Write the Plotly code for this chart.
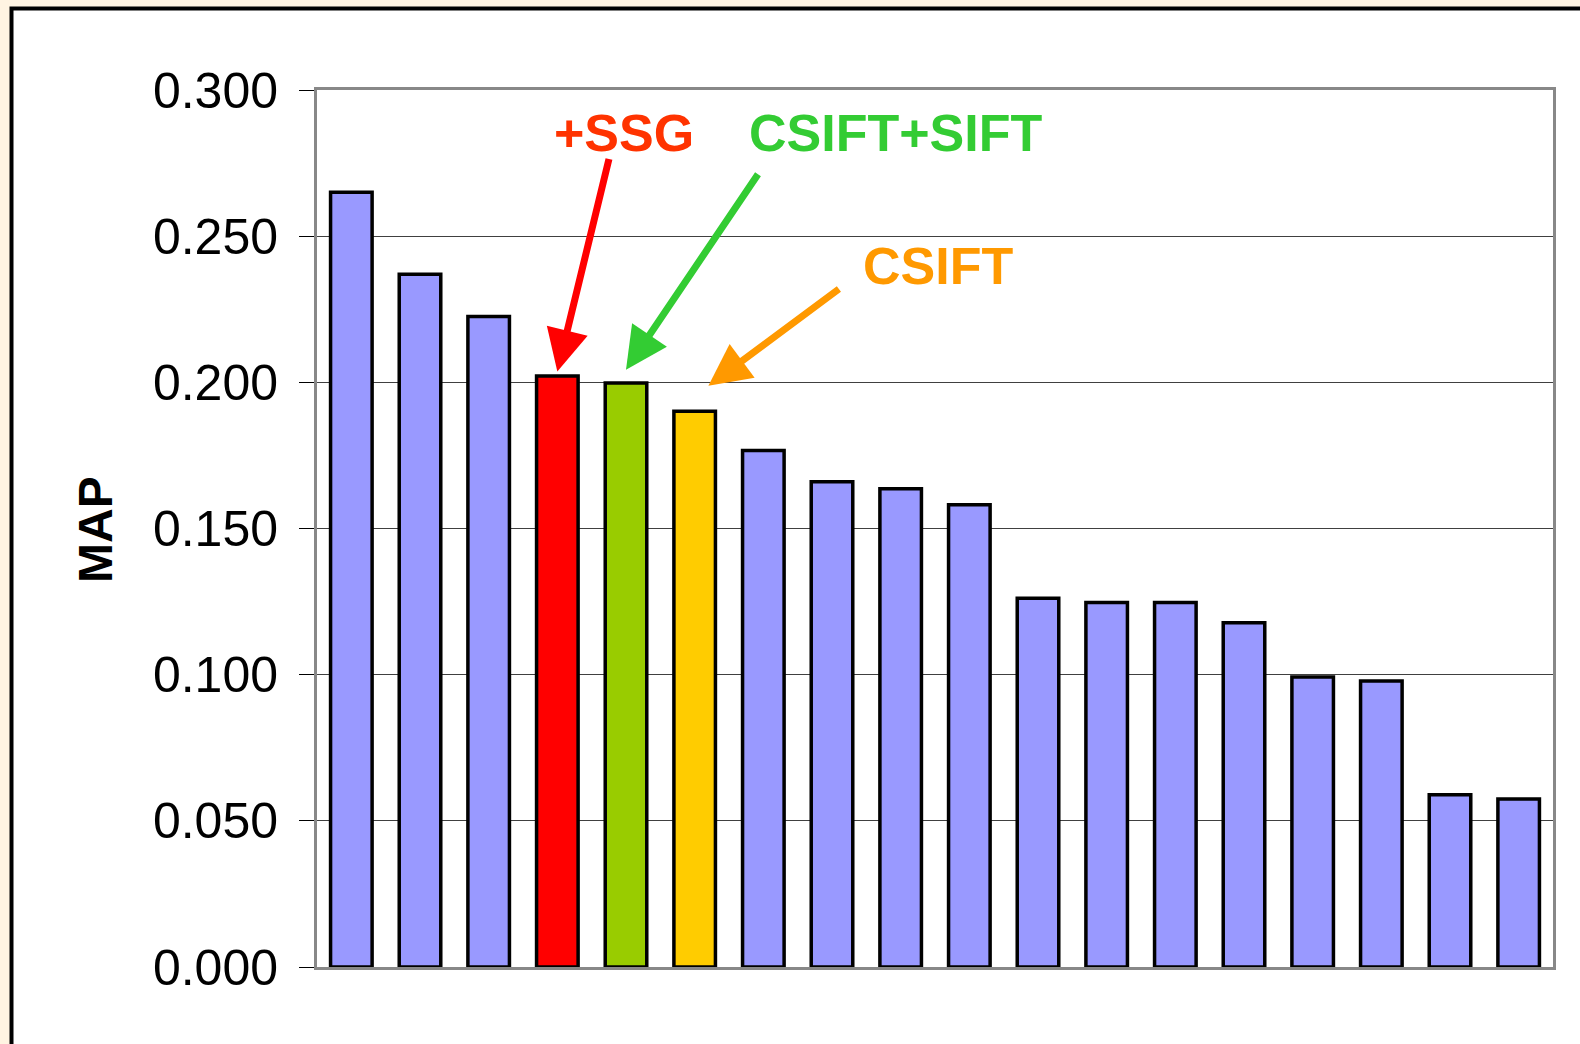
import plotly.graph_objects as go

# ---- data ----
runs = [f"R{i}" for i in range(1, 19)]
map_values = [0.265, 0.237, 0.2225, 0.2022, 0.1998, 0.1901, 0.1767, 0.1660, 0.1636,
              0.1581, 0.1261, 0.1247, 0.1247, 0.1178, 0.0992, 0.0978, 0.0589, 0.0575]
bar_colors = ["#9999FF", "#9999FF", "#9999FF", "#FF0000", "#99CC00", "#FFCC00"] + ["#9999FF"] * 12
tick_vals = [0.0, 0.05, 0.10, 0.15, 0.20, 0.25, 0.30]
tick_text = ["0.000", "0.050", "0.100", "0.150", "0.200", "0.250", "0.300"]
callout_labels = ["+SSG", "CSIFT+SIFT", "CSIFT"]
callout_colors = ["#FF3300", "#33CC33", "#FF9900"]
callout_bar_index = [3, 4, 5]

W, H = 1580, 1044
L, R, T, B = 317, 27, 90, 77
PW, PH = W - L - R, H - T - B


def px(x):
    return (x - L) / PW


def py(y):
    return (H - B - y) / PH


fig = go.Figure(go.Bar(
    x=list(range(len(runs))), y=map_values,
    marker=dict(color=bar_colors, line=dict(color="black", width=3.5)),
    hoverinfo="skip",
))

fig.update_layout(
    width=W, height=H,
    margin=dict(l=L, r=R, t=T, b=B),
    paper_bgcolor="#FFF4E2",
    plot_bgcolor="white",
    bargap=0.395,
    showlegend=False,
    font=dict(family="Liberation Sans, Arial, sans-serif", color="black"),
)
fig.update_xaxes(
    range=[-0.5, len(runs) - 0.5], showticklabels=False, ticks="",
    showgrid=False, zeroline=False,
    showline=True, linecolor="#888888", linewidth=3, mirror=True,
)
fig.update_yaxes(
    range=[0, 0.3], tickvals=tick_vals, ticktext=tick_text,
    ticks="outside", ticklen=15, tickwidth=1, tickcolor="black",
    tickfont=dict(size=50, family="Liberation Sans, Arial, sans-serif"),
    ticklabelstandoff=11,
    showgrid=True, gridcolor="#404040", gridwidth=1, zeroline=False,
    showline=True, linecolor="#888888", linewidth=3, mirror=True,
)

# white card with black frame behind everything
fig.add_shape(type="rect", xref="paper", yref="paper", layer="below",
              x0=px(11.5), x1=px(1620), y0=py(1080), y1=py(8.5),
              fillcolor="white", line=dict(color="black", width=4))

# y-axis title
fig.add_annotation(text="<b>MAP</b>", xref="paper", yref="paper",
                   x=px(95), y=py(530), textangle=-90, showarrow=False,
                   xanchor="center", yanchor="middle",
                   font=dict(size=48, family="Liberation Sans, Arial, sans-serif", color="black"))

# callout texts
text_pos = [(624, 133), (895, 133), (938, 266)]
for lab, col, (tx, ty) in zip(callout_labels, callout_colors, text_pos):
    fig.add_annotation(text=f"<b>{lab}</b>", xref="paper", yref="paper",
                       x=px(tx), y=py(ty), showarrow=False,
                       xanchor="center", yanchor="middle",
                       font=dict(size=52, family="Liberation Sans, Arial, sans-serif", color=col))

# arrows (tips anchored on the bars)
arrow_cols = ["#FF0000", "#33CC33", "#FF9900"]
tip_dx = [0.0, 0.0, 0.2]
tip_dy = [0.0015, 0.0045, 0.0087]
tails = [(52, -214), (133, -197), (132, -98)]
for bi, col, dx, dy, (ax, ay) in zip(callout_bar_index, arrow_cols, tip_dx, tip_dy, tails):
    fig.add_annotation(x=bi + dx, y=map_values[bi] + dy, xref="x", yref="y",
                       text="", showarrow=True, ax=ax, ay=ay,
                       arrowhead=2, arrowsize=1.2, arrowwidth=7, arrowcolor=col,
                       standoff=0, startstandoff=0)

fig.write_html("out.html", config={"displayModeBar": False},
               post_script="document.body.style.margin='0';document.body.style.background='#FFF4E2';")
